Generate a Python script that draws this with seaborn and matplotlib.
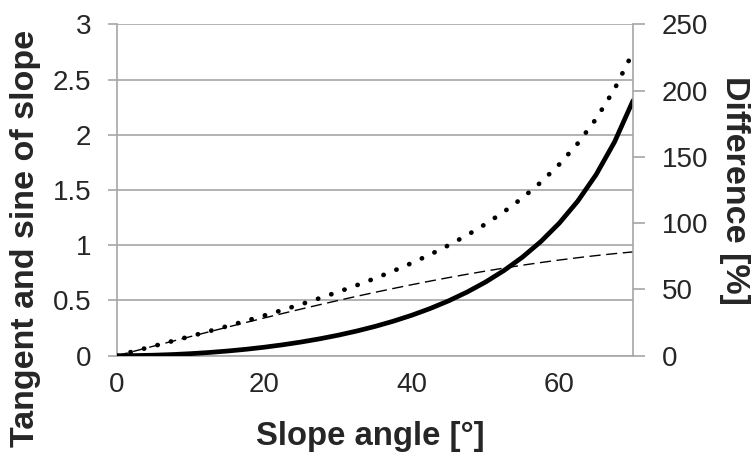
import matplotlib
matplotlib.use("Agg")
import matplotlib.pyplot as plt
import seaborn as sns
import pandas as pd

# Slope angle [deg]
angle = [0, 2.5, 5, 7.5, 10, 12.5, 15, 17.5, 20, 22.5, 25, 27.5, 30, 32.5, 35,
         37.5, 40, 42.5, 45, 47.5, 50, 52.5, 55, 57.5, 60, 62.5, 65, 67.5, 70]
# Tangent of slope (dotted)
tangent = [0, 0.0437, 0.0875, 0.1317, 0.1763, 0.2217, 0.2679, 0.3153, 0.3640,
           0.4142, 0.4663, 0.5206, 0.5774, 0.6371, 0.7002, 0.7673, 0.8391,
           0.9163, 1.0000, 1.0913, 1.1918, 1.3032, 1.4281, 1.5697, 1.7321,
           1.9210, 2.1445, 2.4142, 2.7475]
# Sine of slope (thin dashed)
sine = [0, 0.0436, 0.0872, 0.1305, 0.1736, 0.2164, 0.2588, 0.3007, 0.3420,
        0.3827, 0.4226, 0.4617, 0.5000, 0.5373, 0.5736, 0.6088, 0.6428,
        0.6756, 0.7071, 0.7373, 0.7660, 0.7934, 0.8192, 0.8434, 0.8660,
        0.8870, 0.9063, 0.9239, 0.9397]
# Difference [%] (thick solid, right axis)
difference = [0, 0.10, 0.38, 0.86, 1.54, 2.43, 3.53, 4.85, 6.42, 8.24, 10.34,
              12.74, 15.47, 18.57, 22.08, 26.05, 30.54, 35.63, 41.42, 48.02,
              55.57, 64.27, 74.34, 86.12, 100.0, 116.57, 136.62, 161.31, 192.38]

x_ticks = [0, 20, 40, 60]
left_ticks = [0, 0.5, 1, 1.5, 2, 2.5, 3]
left_labels = ["0", "0.5", "1", "1.5", "2", "2.5", "3"]
right_ticks = [0, 50, 100, 150, 200, 250]

df = pd.DataFrame({"angle": angle, "tangent": tangent, "sine": sine,
                   "difference": difference})

sns.set_style("white")
plt.rcParams["font.family"] = ["Liberation Sans", "DejaVu Sans"]

GRID = "#a6a6a6"
TXT = "#262626"

W, H = 751, 455
L, R, T, B = 117, 633, 24.3, 355.7
fig = plt.figure(figsize=(W / 100, H / 100), dpi=100)
ax = fig.add_axes([L / W, (H - B) / H, (R - L) / W, (B - T) / H])


def ax_coords(px, py):
    return (px - L) / (R - L), (B - py) / (B - T)


sns.lineplot(data=df, x="angle", y="tangent", ax=ax, color="black",
             linewidth=3.4, linestyle=(0, (0.05, 2.9)))
ax.lines[-1].set_dash_capstyle("round")
sns.lineplot(data=df, x="angle", y="sine", ax=ax, color="black",
             linewidth=1.0, linestyle=(0, (8, 4)))

ax.set_xlim(0, 70)
ax.set_ylim(0, 3)
ax.set_xticks(x_ticks)
ax.set_yticks(left_ticks)
ax.set_yticklabels(left_labels)
ax.yaxis.grid(True, color=GRID, linewidth=1.2)
ax.set_axisbelow(True)
for s in ["top", "right"]:
    ax.spines[s].set_visible(False)
for s in ["left", "bottom"]:
    ax.spines[s].set_color(GRID)
    ax.spines[s].set_linewidth(1.2)
ax.tick_params(axis="y", length=6.5, width=1.2, color=GRID, direction="out",
               labelsize=20, labelcolor=TXT, pad=12)
ax.tick_params(axis="x", length=4, width=1.2, color=GRID, direction="out",
               labelsize=20, labelcolor=TXT, pad=8)
ax.set_xlabel("Slope angle [°]", fontsize=23.7, fontweight="bold")
ax.set_ylabel("Tangent and sine of slope", fontsize=24.5, fontweight="bold")
ax.xaxis.set_label_coords(*ax_coords(370, 436))
ax.xaxis.label.set_va("center")
ax.yaxis.set_label_coords(*ax_coords(26, 238))
ax.yaxis.label.set_rotation_mode("default")
ax.yaxis.label.set_va("center")
ax.yaxis.label.set_ha("center")

ax2 = ax.twinx()
sns.lineplot(data=df, x="angle", y="difference", ax=ax2, color="black",
             linewidth=3.4)
ax2.set_ylim(0, 250)
ax2.set_yticks(right_ticks)
for s in ["top", "left", "bottom"]:
    ax2.spines[s].set_visible(False)
ax2.spines["right"].set_color(GRID)
ax2.spines["right"].set_linewidth(1.2)
ax2.tick_params(axis="y", length=8.5, width=1.2, color=GRID, direction="out",
                labelsize=20, labelcolor=TXT, pad=12)
ax2.set_ylabel("Difference [%]", fontsize=24.5, fontweight="bold",
               rotation=270)
ax2.yaxis.set_label_coords(*ax_coords(734, 190))
ax2.yaxis.label.set_rotation_mode("default")
ax2.yaxis.label.set_va("center")
ax2.yaxis.label.set_ha("center")
ax2.grid(False)

fig.savefig("out.png", dpi=100)
